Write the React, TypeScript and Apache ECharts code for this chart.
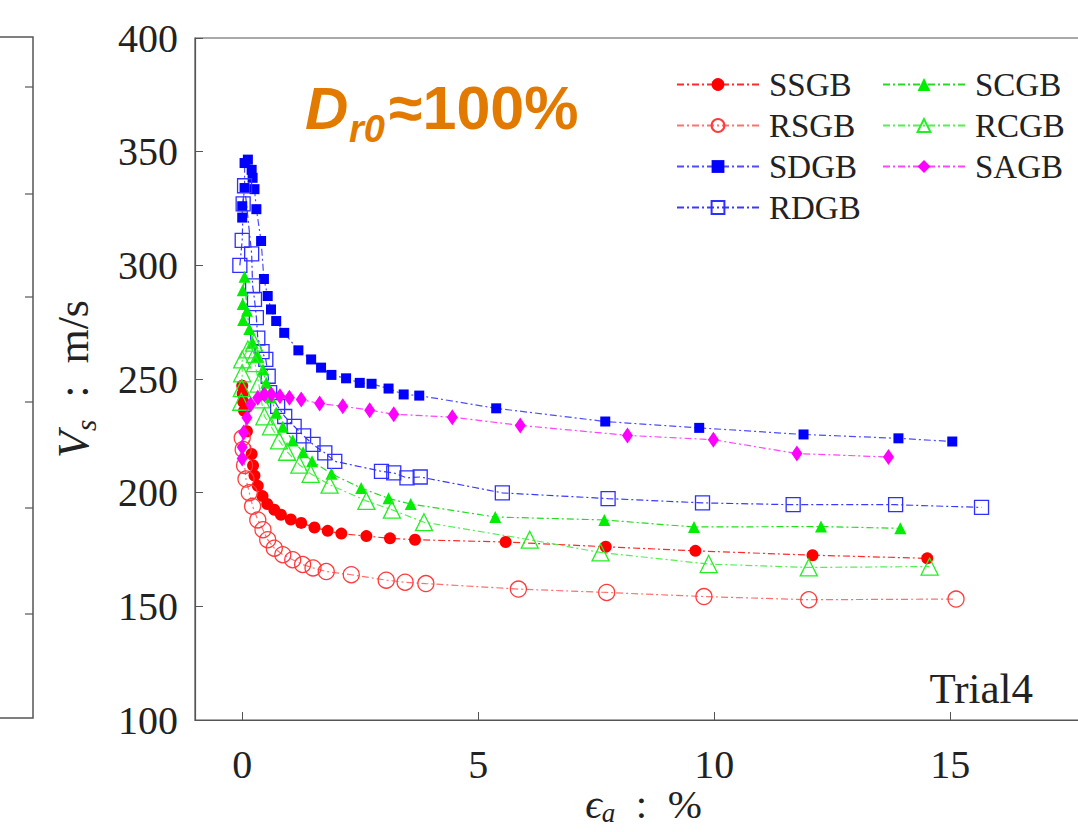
import React, { useEffect, useRef } from 'react';
import * as echarts from 'echarts';

const SERIF = '"Liberation Serif", "DejaVu Serif", serif';
const SANS = '"Liberation Sans", Arial, sans-serif';
const INK = '#222';

const legendCol1 = ['SSGB', 'RSGB', 'SDGB', 'RDGB'];
const legendCol2 = ['SCGB', 'RCGB', 'SAGB'];
const xTickValues = [0, 5, 10, 15];

const ssgb = [[0.0,247],[0.01,243.5],[0.02,240],[0.04,236],[0.1,227],[0.2,217],[0.23,212],[0.26,207.5],[0.33,203],[0.43,198.5],[0.53,195],[0.68,192.5],[0.82,190.3],[1.03,188.2],[1.25,186.7],[1.53,184.7],[1.81,183.2],[2.1,182],[2.63,180.9],[3.13,179.9],[3.66,179.3],[5.58,178.3],[7.7,176.2],[9.6,174.4],[12.08,172.5],[14.51,171.1]];
const rsgb = [[0.0,224],[0.02,219],[0.05,212],[0.08,206],[0.15,200],[0.22,194],[0.33,188],[0.44,183.7],[0.54,179.3],[0.68,175.6],[0.86,172.7],[1.07,170.5],[1.28,168.4],[1.5,166.9],[1.78,165.3],[2.31,163.9],[3.05,161.5],[3.45,160.6],[3.89,160],[5.85,157.6],[7.72,156.1],[9.78,154.3],[12.0,152.9],[15.12,153.2]];
const sdgb = [[0.0,321],[0.0,326],[0.05,334],[0.05,345],[0.12,346.5],[0.2,342],[0.22,338.5],[0.26,333.5],[0.3,324.7],[0.4,310.7],[0.46,294],[0.54,286.5],[0.61,280.6],[0.72,275.5],[0.89,270.3],[1.19,262.6],[1.46,258.6],[1.67,255],[1.89,251.8],[2.2,250.3],[2.49,248.3],[2.74,247.9],[3.1,245.8],[3.42,243.2],[3.75,242.7],[5.38,237.1],[7.69,231.3],[9.68,228.5],[11.89,225.6],[13.9,223.9],[15.04,222.5]];
const rdgb = [[-0.05,300],[0.0,311],[0.02,327],[0.05,335],[0.2,305],[0.22,291],[0.26,285],[0.3,277],[0.33,268],[0.42,262],[0.5,258.6],[0.55,251.2],[0.58,244],[0.75,238],[0.9,233.5],[1.1,229.2],[1.3,225],[1.5,221.2],[1.75,217.5],[1.96,213.8],[2.95,209.4],[3.21,208.7],[3.49,206.5],[3.77,206.9],[5.51,199.9],[7.75,197.4],[9.75,195.5],[11.67,194.7],[13.84,194.7],[15.66,193.5]];
const scgb = [[0.02,276],[0.01,283],[0.01,289],[0.05,295],[0.1,280],[0.15,272],[0.22,266],[0.33,260],[0.44,254.2],[0.51,248.3],[0.6,242],[0.72,235.1],[0.86,229],[1.07,223],[1.29,217.8],[1.48,213.8],[1.89,208.3],[2.52,202],[3.1,197.5],[3.57,195],[5.36,189.3],[7.67,188],[9.57,184.9],[12.26,185.1],[13.94,184.3]];
const rcgb = [[-0.02,240],[-0.01,246],[0.0,252.5],[0.0,258.6],[0.12,263],[0.25,266],[0.27,261],[0.27,257],[0.35,248],[0.4,241],[0.47,233.6],[0.61,229.2],[0.78,223],[0.95,218],[1.21,212.3],[1.45,208.3],[1.85,203.5],[2.63,196.4],[3.17,192.5],[3.85,187],[6.09,179.3],[7.59,173.7],[9.88,168.6],[12.0,167.1],[14.56,167.5]];
const sagb = [[0.0,215],[0.0,220],[0.03,226.5],[0.1,233],[0.18,238.8],[0.33,241.7],[0.47,243.2],[0.62,243.2],[0.8,242.4],[1.0,241.8],[1.25,241],[1.64,239.2],[2.13,238],[2.7,236.3],[3.21,234.5],[4.45,233.2],[5.89,229.6],[8.16,225.2],[9.98,223.3],[11.75,217.2],[13.69,215.7]];

const leftPanelTicks = [87, 194, 297, 402, 508, 614];

const DASH = [7, 3, 2, 3];

function mk(name: string, data: number[][], symbol: string, size: any, marker: string, line: string, open: boolean) {
  return {
    name,
    type: 'line',
    data,
    symbol,
    symbolSize: size,
    showSymbol: true,
    lineStyle: { color: line, width: 1.2, type: DASH },
    itemStyle: open
      ? { color: 'rgba(255,255,255,0)', borderColor: marker, borderWidth: 1.3 }
      : { color: marker, borderWidth: 0 },
    emphasis: { disabled: true },
    z: 3,
  };
}

export default function App() {
  const ref = useRef<HTMLDivElement>(null);
  useEffect(() => {
    if (!ref.current) return;
    const chart = echarts.init(ref.current, null, { renderer: 'svg' });
    const legendBase = {
      orient: 'vertical',
      top: 63,
      itemWidth: 82,
      itemHeight: 16,
      itemGap: 8,
      selectedMode: false,
      textStyle: { fontFamily: SERIF, fontSize: 33, color: INK, lineHeight: 33, padding: [0, 0, 0, 5] },
    };
    const graphic: any[] = [
      { type: 'rect', shape: { x: -20, y: 37, width: 53, height: 681 }, style: { fill: 'none', stroke: '#555', lineWidth: 1.5 } },
      ...leftPanelTicks.map((y) => ({ type: 'line', shape: { x1: 25, y1: y, x2: 33, y2: y }, style: { stroke: '#555', lineWidth: 1.2 } })),
      { type: 'text', x: 305, y: 108, style: { text: 'D', fontFamily: SANS, fontSize: 60, fontWeight: 'bold', fontStyle: 'italic', fill: '#e27a00', verticalAlign: 'middle' } },
      { type: 'text', x: 349, y: 129, style: { text: 'r0', fontFamily: SANS, fontSize: 38, fontWeight: 'bold', fontStyle: 'italic', fill: '#e27a00', verticalAlign: 'middle' } },
      { type: 'text', x: 389, y: 108, style: { text: '≈100%', fontFamily: SANS, fontSize: 61, fontWeight: 'bold', fill: '#e27a00', verticalAlign: 'middle' } },
      { type: 'text', x: 1033, y: 688, style: { text: 'Trial4', fontFamily: SERIF, fontSize: 43, fill: INK, align: 'right', verticalAlign: 'middle' } },
    ];
    chart.setOption({
      animation: false,
      backgroundColor: '#fff',
      grid: { left: 195, right: 8, top: 38, bottom: 112, show: true, borderColor: '#555', borderWidth: 1.2, containLabel: false, outerBoundsMode: 'none' },
      legend: [
        { ...legendBase, left: 671, data: legendCol1 },
        { ...legendBase, left: 877, data: legendCol2 },
      ],
      xAxis: {
        type: 'value',
        min: -1,
        max: 18,
        name: '{e|ϵ}{a|a}{n|  :  %}',
        nameLocation: 'middle',
        nameGap: 62,
        nameMoveOverlap: false,
        nameTextStyle: {
          fontFamily: SERIF, fontSize: 40, color: INK,
          rich: {
            e: { fontFamily: SERIF, fontSize: 41, fontStyle: 'italic', color: INK },
            a: { fontFamily: SERIF, fontSize: 27, fontStyle: 'italic', color: INK, verticalAlign: 'bottom', lineHeight: 44 },
            n: { fontFamily: SERIF, fontSize: 41, color: INK },
          },
        },
        axisLine: { show: true, onZero: false, lineStyle: { color: '#555', width: 1.2 } },
        axisTick: { show: true, inside: true, length: 8, customValues: xTickValues, lineStyle: { color: '#555' } },
        axisLabel: { customValues: xTickValues, fontFamily: SERIF, fontSize: 40, color: INK, margin: 24 },
        splitLine: { show: false },
      },
      yAxis: {
        type: 'value',
        min: 100,
        max: 400,
        interval: 50,
        name: '{v|V}{s|s}{n|  :  m/s}',
        nameLocation: 'middle',
        nameGap: 95,
        nameRotate: 90,
        nameTextStyle: {
          fontFamily: SERIF, fontSize: 44, color: INK,
          rich: {
            v: { fontFamily: SERIF, fontSize: 44, fontStyle: 'italic', color: INK },
            s: { fontFamily: SERIF, fontSize: 29, fontStyle: 'italic', color: INK, verticalAlign: 'bottom', lineHeight: 54 },
            n: { fontFamily: SERIF, fontSize: 44, color: INK },
          },
        },
        axisLine: { show: true, onZero: false, lineStyle: { color: '#555', width: 1.2 } },
        axisTick: { show: true, inside: true, length: 8, lineStyle: { color: '#555' } },
        axisLabel: { fontFamily: SERIF, fontSize: 40, color: INK, margin: 17 },
        splitLine: { show: false },
      },
      series: [
        mk('SSGB', ssgb, 'circle', 12, '#ff0000', '#ff2a2a', false),
        mk('RSGB', rsgb, 'circle', 16, '#ff3b3b', '#ff7070', true),
        mk('SDGB', sdgb, 'rect', 10, '#0000ff', '#4d4dff', false),
        mk('RDGB', rdgb, 'rect', 14, '#2f2fff', '#3a3aff', true),
        mk('SCGB', scgb, 'triangle', 12, '#00ee00', '#22dd22', false),
        mk('RCGB', rcgb, 'triangle', 17, '#22ee22', '#55ee55', true),
        mk('SAGB', sagb, 'diamond', [11, 16], '#ff00ff', '#ff44ff', false),
      ],
      graphic,
    });
    return () => chart.dispose();
  }, []);
  return (
    <div style={{ position: 'fixed', left: 0, top: 0, width: 1078, height: 832, overflow: 'hidden', background: '#fff' }}>
      <div ref={ref} style={{ width: 1100, height: 832 }} />
    </div>
  );
}
